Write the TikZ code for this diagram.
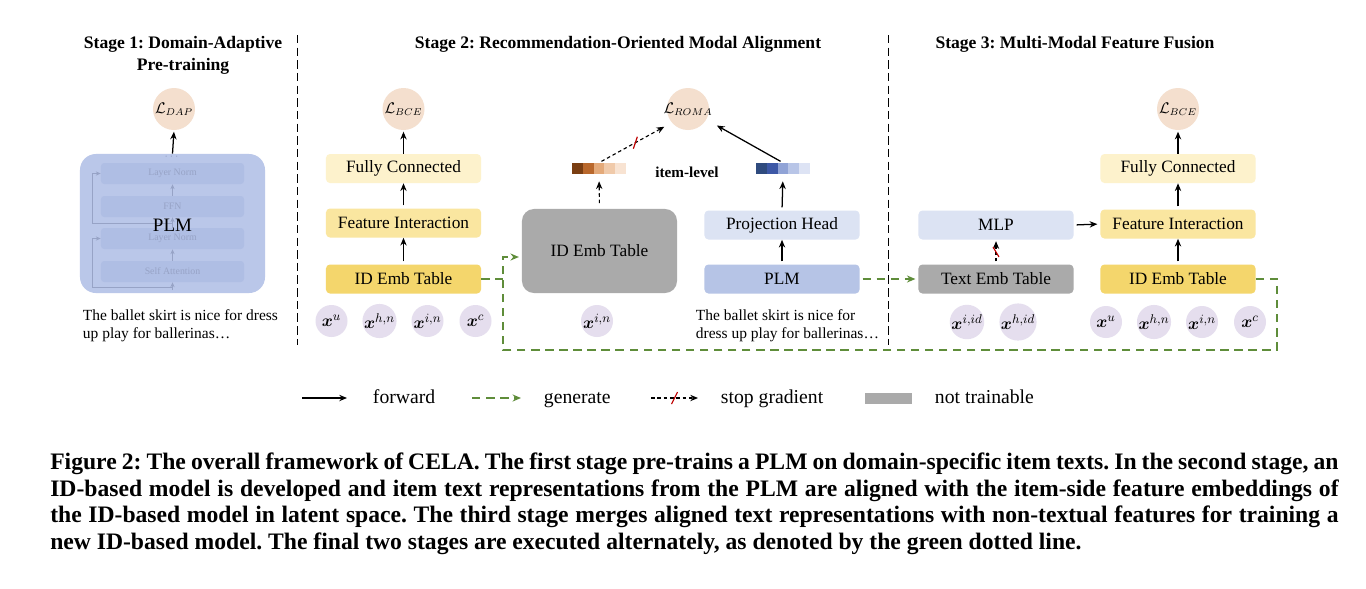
\documentclass[tikz,border=0pt]{standalone}
\usepackage{amsmath,amssymb}
\usepackage{fontspec}
\setmainfont{Liberation Serif}
\usetikzlibrary{arrows.meta,calc}

\definecolor{losspeach}{HTML}{F4DFCE}
\definecolor{fcyellow}{HTML}{FDF2CC}
\definecolor{fiyellow}{HTML}{FAE6A0}
\definecolor{idyellow}{HTML}{F4D66C}
\definecolor{frozengray}{HTML}{AAAAAA}
\definecolor{paleblue}{HTML}{DCE3F3}
\definecolor{plmblue}{HTML}{B6C4E6}
\definecolor{featlilac}{HTML}{E5DEEE}
\definecolor{gengreen}{HTML}{5F8D3A}
\definecolor{stageblue}{HTML}{BAC7E9}
\definecolor{layerblue}{HTML}{AFBEE4}
\definecolor{layertext}{HTML}{97A3C6}
\definecolor{or1}{HTML}{7A3E12}
\definecolor{or2}{HTML}{B9682C}
\definecolor{or3}{HTML}{E4AA7A}
\definecolor{or4}{HTML}{F0CAAA}
\definecolor{or5}{HTML}{F8E3D2}
\definecolor{bl1}{HTML}{2F4B7E}
\definecolor{bl2}{HTML}{3D58A6}
\definecolor{bl3}{HTML}{90A3D6}
\definecolor{bl4}{HTML}{B8C5E7}
\definecolor{bl5}{HTML}{DDE3F4}

\begin{document}
\frenchspacing
\begin{tikzpicture}[x=0.025cm,y=-0.025cm,
  font=\fontsize{12.3}{15}\selectfont,
  title/.style={font=\fontsize{12.5}{15.6}\selectfont\bfseries, align=center},
  box/.style={rounded corners=1mm, minimum width=3.875cm, minimum height=0.725cm, inner sep=0pt},
  bigbox/.style={rounded corners=3mm, minimum width=3.875cm, minimum height=2.1cm, inner sep=0pt, fill=frozengray},
  loss/.style={circle, fill=losspeach, minimum size=1.05cm, inner sep=0pt, font=\fontsize{10.5}{12}\selectfont},
  feat/.style={circle, fill=featlilac, minimum size=0.8cm, inner sep=0pt},
  layerbox/.style={rounded corners=0.8mm, fill=layerblue, minimum width=3.575cm, minimum height=0.525cm, inner sep=0pt, text=layertext, font=\fontsize{7}{8}\selectfont},
  faint/.style={-{Stealth[length=3.5pt,width=3pt]}, draw=layertext, line width=0.7pt},
  small/.style={font=\fontsize{11}{12.8}\selectfont, align=left},
  fwd/.style={-{Stealth[length=5.5pt,width=4.5pt]}, line width=0.9pt},
  gen/.style={-{Stealth[length=6pt,width=5pt]}, draw=gengreen, line width=1.4pt, dash pattern=on 6pt off 4pt},
  stopgrad/.style={-{Stealth[length=5.5pt,width=4.5pt]}, line width=0.8pt, dash pattern=on 2.5pt off 2pt},
  cutmark/.style={draw=red!75!black, line width=0.8pt},
  sep/.style={line width=0.6pt, dash pattern=on 6pt off 3pt},
  legend/.style={font=\fontsize{14}{16}\selectfont, anchor=base west}
]
\useasboundingbox (0,0) rectangle (1366,588);
\fill[white] (0,0) rectangle (1366,588);

% stage titles
\node[title] (t1) at (183,55) {Stage 1: Domain-Adaptive\\Pre-training};
\node[title] (t2) at (618,44) {Stage 2: Recommendation-Oriented Modal Alignment};
\node[title] (t3) at (1075,44) {Stage 3: Multi-Modal Feature Fusion};

% separators
\draw[sep] (297,35) -- (297,345);
\draw[sep] (888,35) -- (888,345);

%% stage 1
\node[loss] (dap) at (174,109) {\makebox[0pt]{$\mathcal{L}_{DAP}$}};
\node[rounded corners=4mm, fill=stageblue, minimum width=4.625cm, minimum height=3.475cm] (plm1) at (172.5,223.5) {};
\node[layerbox] (ln2) at (172.5,173.5) {Layer Norm};
\node[layerbox] (ffn) at (172.5,206.5) {FFN};
\node[layerbox] (ln1) at (172.5,238.5) {Layer Norm};
\node[layerbox] (sa) at (172.5,271.5) {Self Attention};
\node[text=layertext, font=\fontsize{8}{8}\selectfont] (dots) at (172.5,157) {$\cdots$};
\coordinate (plmin) at (172.5,290);
\coordinate (res1) at (92,287);
\coordinate (res2) at (92,223);
\draw[faint] (plmin) -- (sa.south);
\draw[faint] (sa.north) -- (ln1.south);
\draw[faint] (ln1.north) -- (ffn.south);
\draw[faint] (ffn.north) -- (ln2.south);
\draw[faint] (plmin |- res1) -- (res1) |- (ln1.west);
\draw[faint] (ln1.north |- res2) -- (res2) |- (ln2.west);
\node[font=\fontsize{13.5}{15}\selectfont] (plmlabel) at (172.5,225) {PLM};
\draw[fwd, shorten >=1pt] (plm1.north) -- (dap.south);
\node[small, anchor=north west] (text1) at (78,305) {The ballet skirt is nice for dress\\up play for ballerinas…};

%% stage 2, ID-based model
\node[loss] (bce2) at (403.5,109) {\makebox[0pt]{$\mathcal{L}_{BCE}$}};
\node[box, fill=fcyellow] (fc2) at (403.5,168.5) {Fully Connected};
\node[box, fill=fiyellow] (fi2) at (403.5,223) {Feature Interaction};
\node[box, fill=idyellow] (id2) at (403.5,279) {ID Emb Table};
\node[feat] (xu2) at (331.5,321) {$\boldsymbol{x}^{u}$};
\node[feat] (xhn2) at (379.5,321) {$\boldsymbol{x}^{h,n}$};
\node[feat] (xin2) at (427.5,321) {$\boldsymbol{x}^{i,n}$};
\node[feat] (xc2) at (475.5,321) {$\boldsymbol{x}^{c}$};
\draw[fwd, shorten <=2pt] (id2.north) -- (fi2.south);
\draw[fwd, shorten <=2pt] (fi2.north) -- (fc2.south);
\draw[fwd, shorten >=1pt] (fc2.north) -- (bce2.south);

%% stage 2, alignment
\node[loss] (roma) at (688,109) {\makebox[0pt]{$\mathcal{L}_{ROMA}$}};
\node[bigbox] (idgray) at (599.5,251) {ID Emb Table};
\node[feat] (xin2b) at (597,321) {$\boldsymbol{x}^{i,n}$};
\foreach \c [count=\i from 0] in {or1,or2,or3,or4,or5}
  \fill[\c] (572+\i*10.8,163) rectangle ++(10.8,11);
\foreach \c [count=\i from 0] in {bl1,bl2,bl3,bl4,bl5}
  \fill[\c] (756+\i*10.8,163) rectangle ++(10.8,11);
\node[minimum width=1.35cm, minimum height=0.275cm, inner sep=0pt] (barid) at (599,168.5) {};
\node[minimum width=1.35cm, minimum height=0.275cm, inner sep=0pt] (bartext) at (783,168.5) {};
\node[font=\fontsize{10.8}{12}\selectfont\bfseries] (itemlevel) at (687,172) {item-level};
\node[box, fill=paleblue] (proj) at (782,225) {Projection Head};
\node[box, fill=plmblue] (plm2) at (782,279) {PLM};
\node[small, anchor=north west] (text2) at (691,305) {The ballet skirt is nice for\\dress up play for ballerinas…};
\draw[stopgrad, shorten <=4pt, shorten >=5pt] (idgray.north) -- (barid.south);
\draw[stopgrad, shorten <=2pt, shorten >=6pt] (barid.north) -- coordinate[pos=0.5] (cutA) (roma.220);
\draw[cutmark] ($(cutA)+(-2,6)$) -- ($(cutA)+(2,-6)$);
\draw[fwd, shorten <=2pt] (plm2.north) -- (proj.south);
\draw[fwd, shorten <=2pt, shorten >=5pt] (proj.north) -- (bartext.south);
\draw[fwd, shorten <=2pt, shorten >=8.5pt] (bartext.north) -- (roma.-30);

%% stage 3
\node[loss] (bce3) at (1178,109) {\makebox[0pt]{$\mathcal{L}_{BCE}$}};
\node[box, fill=fcyellow] (fc3) at (1178,168.5) {Fully Connected};
\node[box, fill=fiyellow] (fi3) at (1178,224) {Feature Interaction};
\node[box, fill=idyellow] (id3) at (1178,279) {ID Emb Table};
\node[box, fill=paleblue] (mlp) at (996,225) {MLP};
\node[box, fill=frozengray] (textemb) at (996,279) {Text Emb Table};
\node[feat] (xiid) at (967,322) {$\boldsymbol{x}^{i,id}$};
\node[feat] (xhid) at (1018,322) {$\boldsymbol{x}^{h,id}$};
\node[feat] (xu3) at (1106,322) {$\boldsymbol{x}^{u}$};
\node[feat] (xhn3) at (1154,322) {$\boldsymbol{x}^{h,n}$};
\node[feat] (xin3) at (1202,322) {$\boldsymbol{x}^{i,n}$};
\node[feat] (xc3) at (1250,322) {$\boldsymbol{x}^{c}$};
\draw[fwd, shorten <=2pt] (id3.north) -- (fi3.south);
\draw[fwd, shorten <=2pt] (fi3.north) -- (fc3.south);
\draw[fwd, shorten >=1pt] (fc3.north) -- (bce3.south);
\draw[fwd, shorten <=2pt, shorten >=2pt] (mlp.east) -- (fi3.west);
\draw[stopgrad, shorten <=2pt, shorten >=1pt] (textemb.north) -- coordinate[pos=0.5] (cutB) (mlp.south);
\draw[cutmark] ($(cutB)+(-3,-5)$) -- ($(cutB)+(3,5)$);

% generate loop
\coordinate (loopin) at (503,257);
\draw[gen, -] (id2.east) -- (id2.east -| loopin);
\draw[gen, shorten >=2pt] (id3.east) -- (1277,279) -- (1277,350) -- (503,350) -- (loopin) -- (loopin -| idgray.west);
\draw[gen, shorten <=2pt, shorten >=2pt] (plm2.east) -- (textemb.west);

% legend
\draw[fwd] (302,398) -- (347,398);
\node[legend] (lfwd) at (368,403) {forward};
\draw[gen] (472,398) -- (521,398);
\node[legend] (lgen) at (539,403) {generate};
\draw[stopgrad] (651,398) -- coordinate[pos=0.5] (cutL) (698,398);
\draw[cutmark] ($(cutL)+(-3,6)$) -- ($(cutL)+(3,-6)$);
\node[legend] (lstop) at (716,403) {stop gradient};
\fill[frozengray] (865,393) rectangle (912,404);
\node[legend] (lfrozen) at (930,403) {not trainable};

% caption
\node[anchor=north west, inner sep=0pt, text width=32.2cm, align=justify,
  font=\fontsize{16.8}{18.85}\selectfont\bfseries] (caption) at (50,453)
  {Figure 2: The overall framework of CELA. The first stage pre-trains a PLM on domain-specific item texts. In the second stage, an\linebreak
  ID-based model is developed and item text representations from the PLM are aligned with the item-side feature embeddings of\linebreak
  the ID-based model in latent space. The third stage merges aligned text representations with non-textual features for training a\linebreak
  new ID-based model. The final two stages are executed alternately, as denoted by the green dotted line.};
\end{tikzpicture}
\end{document}
